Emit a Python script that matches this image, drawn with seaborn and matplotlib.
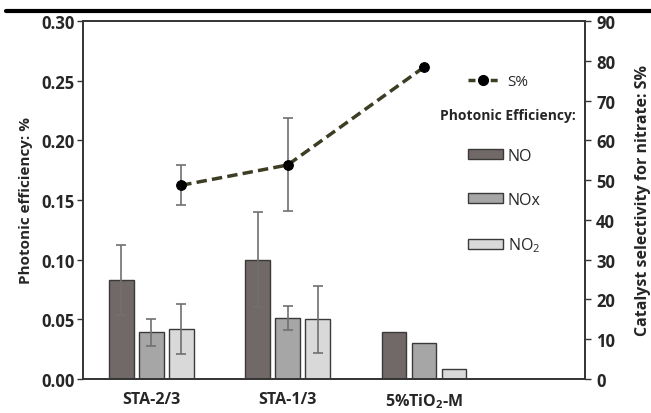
import numpy as np
import pandas as pd
import matplotlib
matplotlib.use("Agg")
import matplotlib.pyplot as plt
import seaborn as sns
from matplotlib.lines import Line2D
from matplotlib.patches import Patch

categories = ["STA-2/3", "STA-1/3", "5%TiO$_2$-M"]
series = ["NO", "NOx", "NO$_2$"]
no_vals = [0.083, 0.100, 0.039]
nox_vals = [0.039, 0.051, 0.030]
no2_vals = [0.042, 0.050, 0.008]
no_err = [0.029, 0.040, 0.0]
nox_err = [0.011, 0.010, 0.0]
no2_err = [0.021, 0.028, 0.0]
s_x = [0.22, 1.0, 2.0]
s_vals = [48.7, 53.8, 78.4]
s_err_lo = [5.0, 11.6, 0.0]
s_err_hi = [5.1, 11.8, 0.0]
colors = ["#716968", "#a6a6a6", "#d9d9d9"]

sns.set_theme(style="white")
plt.rcParams['font.family'] = ['Open Sans', 'DejaVu Sans']
plt.rcParams['font.weight'] = 'bold'
plt.rcParams['mathtext.default'] = 'regular'

rows = []
for s, vals in zip(series, [no_vals, nox_vals, no2_vals]):
    for c, v in zip(categories, vals):
        rows.append({"cat": c, "series": s, "val": v})
df = pd.DataFrame(rows)

W, H = 651, 414
fig = plt.figure(figsize=(6.51, 4.14), dpi=100)
ax = fig.add_axes([83 / W, 1 - 380 / H, (585 - 83) / W, (380 - 22) / H])
sns.barplot(data=df, x="cat", y="val", hue="series", order=categories,
            hue_order=series, palette=colors, width=0.66, gap=0.18,
            edgecolor="#3a3a3a", linewidth=1.0, ax=ax, legend=False, saturation=1)

# error bars on bars
errs = {s: e for s, e in zip(series, [no_err, nox_err, no2_err])}
bars = [p for p in ax.patches if p.get_width() > 0]
for si, s in enumerate(series):
    for ci in range(len(categories)):
        p = bars[si * len(categories) + ci]
        e = errs[s][ci]
        if e > 0:
            ax.errorbar(p.get_x() + p.get_width() / 2, p.get_height(), yerr=e,
                        fmt="none", ecolor="#707070", elinewidth=1.2, capsize=3.5,
                        capthick=1.2)

ax.set_xlim(-0.5, 3.18)
ax.set_ylim(0, 0.30)
yt = np.arange(0, 0.301, 0.05)
ax.set_yticks(yt)
ax.set_yticklabels([f"{v:.2f}" for v in yt], fontsize=12, fontweight="bold")
ax.set_xticks(range(len(categories)))
ax.set_xticklabels(categories, fontsize=11.5, fontweight="bold")
ax.tick_params(axis="x", length=0, pad=9)
ax.tick_params(axis="y", direction="out", length=4, width=1, color="#333333", left=True, pad=2)
ax.set_xlabel("")
ax.set_ylabel("Photonic efficiency: %", fontsize=11, fontweight="bold", labelpad=6)
for sp in ax.spines.values():
    sp.set_color("#333333")
    sp.set_linewidth(1.2)

ax2 = ax.twinx()
ax2.errorbar(s_x, s_vals, yerr=[s_err_lo, s_err_hi], fmt="none", ecolor="#707070",
             elinewidth=1.2, capsize=3.5, capthick=1.2)
sns.lineplot(x=s_x, y=s_vals, ax=ax2, color="#3d3d24", linewidth=2.5,
             linestyle=(0, (3, 1.5)), marker="o", markersize=7,
             markerfacecolor="black", markeredgecolor="black", legend=False)
ax2.set_ylim(0, 90)
ax2.set_yticks(range(0, 91, 10))
ax2.set_yticklabels([str(v) for v in range(0, 91, 10)], fontsize=12, fontweight="bold")
ax2.tick_params(axis="y", direction="out", length=4, width=1, color="#333333", right=True, pad=4)
ax2.set_ylabel("Catalyst selectivity for nitrate: S%", fontsize=11.5, fontweight="bold", labelpad=14)
for sp in ax2.spines.values():
    sp.set_color("#333333")
    sp.set_linewidth(1.2)

# legends
line_handle = Line2D([0], [0], color="#3d3d24", linewidth=2.5, linestyle=(0, (2, 1.2)),
                     marker="o", markersize=7, markerfacecolor="black", markeredgecolor="black")
leg1 = fig.legend([line_handle], ["S%"], loc="center left",
                  bbox_to_anchor=(468 / W, 1 - 83 / H), frameon=False,
                  handlelength=2.0, handletextpad=0.6, borderpad=0, borderaxespad=0,
                  prop={"size": 11, "weight": "normal"})
fig.text(508 / W, 1 - 120 / H, "Photonic Efficiency:", ha="center", va="baseline",
         fontsize=10, fontweight="bold")
patch_handles = [Patch(facecolor=c, edgecolor="#3a3a3a", linewidth=1.0) for c in colors]
leg2 = fig.legend(patch_handles, series, loc="center left",
                  bbox_to_anchor=(468 / W, 1 - 202 / H), frameon=False,
                  handlelength=2.2, handleheight=0.6, labelspacing=1.75,
                  handletextpad=0.3, borderpad=0, borderaxespad=0,
                  prop={"size": 11.5, "weight": "normal"})

fig.add_artist(Line2D([0.009, 1.0], [1 - 12 / H, 1 - 12 / H], color="black", linewidth=3,
                      transform=fig.transFigure))

fig.savefig("out.png", dpi=100)
